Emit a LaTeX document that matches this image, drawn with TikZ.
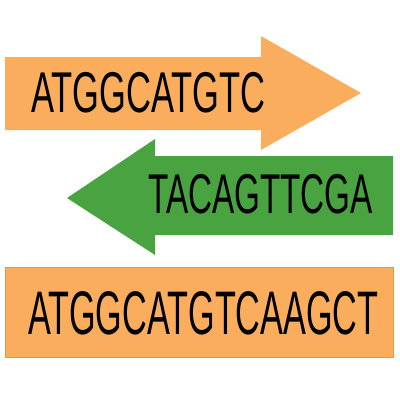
\documentclass[tikz,border=0pt]{standalone}
\usepackage{fontspec}
\setmainfont{Liberation Sans}
\definecolor{dnaorange}{RGB}{250,174,93}
\definecolor{dnaborder}{RGB}{226,150,80}
\definecolor{dnagreen}{RGB}{74,163,65}
\tikzset{
  seqtext/.style={anchor=base west, inner sep=0pt, text=black},
}
\begin{document}
\begin{tikzpicture}[x=1pt,y=-1pt]
\useasboundingbox (0,0) rectangle (400,400);
% top orange arrow (right)
\fill[dnaorange] (5,57) -- (261,57) -- (261,36) -- (361,93) -- (261,150) -- (261,130) -- (5,130) -- cycle;
% green arrow (left)
\fill[dnagreen] (393,156) -- (155,156) -- (155,139) -- (67,198) -- (155,255) -- (155,235) -- (393,235) -- cycle;
% bottom rectangle
\draw[dnaborder, fill=dnaorange, line width=0.8pt] (5,267) rectangle (393,357);
\node[seqtext] (s1) at (31,112) {\scalebox{0.6}[1]{\fontsize{57.5}{60}\selectfont ATGGCATGTC}};
\node[seqtext] (s2) at (148,213) {\scalebox{0.594}[1]{\fontsize{56}{60}\selectfont TACAGTTCGA}};
\node[seqtext] (s3) at (28,334) {\scalebox{0.556}[1]{\fontsize{61.5}{64}\selectfont ATGGCATGTCAAGCT}};
\end{tikzpicture}
\end{document}
